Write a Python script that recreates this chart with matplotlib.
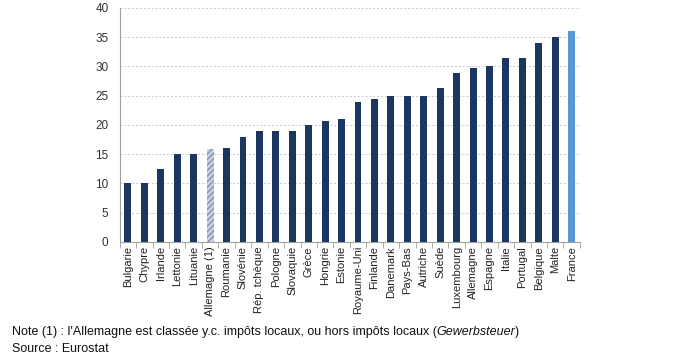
import numpy as np
import matplotlib.pyplot as plt

plt.rcParams['font.family'] = ['Liberation Sans', 'DejaVu Sans']

pays = ['Bulgarie', 'Chypre', 'Irlande', 'Lettonie', 'Lituanie', 'Allemagne (1)',
        'Roumanie', 'Slovénie', 'Rép. tchèque', 'Pologne', 'Slovaquie', 'Grèce',
        'Hongrie', 'Estonie', 'Royaume-Uni', 'Finlande', 'Danemark', 'Pays-Bas',
        'Autriche', 'Suède', 'Luxembourg', 'Allemagne', 'Espagne', 'Italie',
        'Portugal', 'Belgique', 'Malte', 'France']
taux = [10, 10, 12.5, 15, 15, 15.8, 16, 18, 19, 19, 19, 20, 20.6, 21, 24, 24.5,
        25, 25, 25, 26.3, 28.8, 29.8, 30, 31.4, 31.5, 34, 35, 36.1]

FONCE = '#1b365f'
CLAIR = '#5a95d6'

fig = plt.figure(figsize=(6.92, 3.6), dpi=100)
ax = fig.add_axes([0.173, 0.328, 0.665, 0.65])

x = np.arange(len(pays))
barres = ax.bar(x, taux, width=0.42, color=FONCE, zorder=3)
i_all = pays.index('Allemagne (1)')
barres[i_all].set_facecolor('#c9d3e0')
barres[i_all].set_edgecolor('#7f93b0')
barres[i_all].set_hatch('//////')
barres[i_all].set_linewidth(0)
barres[-1].set_facecolor(CLAIR)

ax.set_xlim(-0.5, len(pays) - 0.5)
ax.set_ylim(0, 40)
ax.set_yticks(range(0, 41, 5))
ax.yaxis.grid(True, linestyle=(0, (2, 2)), color='#c8c8c8', linewidth=0.7, zorder=0)

ax.set_xticks(x)
ax.set_xticklabels(pays, rotation=90, fontsize=8, color='#222222')
ax.tick_params(axis='x', length=0, pad=3)
ax.set_xticks(np.arange(-0.5, len(pays)), minor=True)
ax.tick_params(axis='x', which='minor', length=4, color='#a0a0a0', direction='out')
ax.tick_params(axis='y', length=0, labelsize=8.5, colors='#333333', pad=8)

for s in ['top', 'right']:
    ax.spines[s].set_visible(False)
ax.spines['left'].set_color('#a0a0a0')
ax.spines['bottom'].set_color('#a0a0a0')

# note de bas de page, avec le mot allemand en italique
y_note = 0.07
t = fig.text(0.017, y_note, "Note (1) : l'Allemagne est classée y.c. impôts locaux, ou hors impôts locaux (",
             fontsize=9, color='#111111')
fig.canvas.draw()
rend = fig.canvas.get_renderer()
bb = t.get_window_extent(renderer=rend)
t2 = fig.text(bb.x1 / fig.bbox.width, y_note, 'Gewerbsteuer', fontsize=9, style='italic', color='#111111')
bb2 = t2.get_window_extent(renderer=rend)
fig.text(bb2.x1 / fig.bbox.width, y_note, ')', fontsize=9, color='#111111')
fig.text(0.017, 0.022, 'Source : Eurostat', fontsize=9, color='#111111')

fig.savefig('out.png', dpi=100)
